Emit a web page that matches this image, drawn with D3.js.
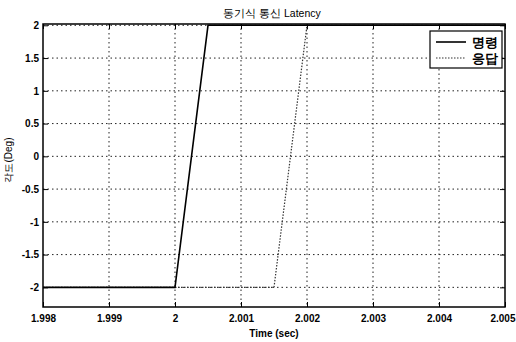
<!DOCTYPE html>
<html><head><meta charset="utf-8">
<script src="https://cdn.jsdelivr.net/npm/d3@7"></script>
<style>body{margin:0;background:#fff}svg{display:block}text{font-family:"Liberation Sans",Arial,sans-serif}</style>
</head><body>
<script>
const xTicks = [1.998, 1.999, 2, 2.001, 2.002, 2.003, 2.004, 2.005];
const xTickLabels = ["1.998","1.999","2","2.001","2.002","2.003","2.004","2.005"];
const yTicks = [-2, -1.5, -1, -0.5, 0, 0.5, 1, 1.5, 2];
const yTickLabels = ["-2","-1.5","-1","-0.5","0","0.5","1","1.5","2"];
const seriesNames = ["명령", "응답"];
const commandT = [1.998, 2.0, 2.0005, 2.005];
const commandV = [-2, -2, 2, 2];
const responseT = [1.998, 2.0015, 2.002, 2.005];
const responseV = [-2, -2, 2, 2];

const W = 516, H = 342;
const m = {l:43, r:11, t:24, b:35};
const svg = d3.select("body").append("svg").attr("width", W).attr("height", H);
const x = d3.scaleLinear().domain([1.998, 2.005]).range([m.l, W - m.r]);
const y = d3.scaleLinear().domain([-2.3, 2.02]).range([H - m.b, m.t]);

// grid
const g = svg.append("g");
g.selectAll("line.vx").data(xTicks.slice(1, -1)).join("line")
  .attr("x1", d => x(d)).attr("x2", d => x(d)).attr("y1", m.t).attr("y2", H - m.b)
  .attr("stroke", "#222").attr("stroke-width", 1).attr("stroke-dasharray", "1.5,3");
g.selectAll("line.hy").data(yTicks).join("line")
  .attr("x1", m.l).attr("x2", W - m.r).attr("y1", d => y(d)).attr("y2", d => y(d))
  .attr("stroke", "#222").attr("stroke-width", 1).attr("stroke-dasharray", "1.5,3");

// axes
const xAxis = d3.axisBottom(x).tickValues(xTicks).tickFormat((d, i) => xTickLabels[i]).tickSize(-5).tickPadding(8);
const yAxis = d3.axisLeft(y).tickValues(yTicks).tickFormat((d, i) => yTickLabels[i]).tickSize(-5).tickPadding(4);
const gx = svg.append("g").attr("transform", `translate(0,${H - m.b})`).call(xAxis);
const gy = svg.append("g").attr("transform", `translate(${m.l},0)`).call(yAxis);
[gx, gy].forEach(a => {
  a.select(".domain").remove();
  a.selectAll("line").attr("stroke", "#000");
  a.selectAll("text").attr("font-size", 10).attr("font-weight", "bold").attr("fill", "#000");
});
gx.selectAll(".tick").filter((d, i) => i === xTicks.length - 1).select("text")
  .attr("text-anchor", "end").attr("dx", "10");
// top/right tick marks
svg.append("g").attr("transform", `translate(0,${m.t})`).call(d3.axisTop(x).tickValues(xTicks).tickSize(-5).tickFormat(""))
  .call(a => { a.select(".domain").remove(); a.selectAll("line").attr("stroke", "#000"); });
svg.append("g").attr("transform", `translate(${W - m.r},0)`).call(d3.axisRight(y).tickValues(yTicks).tickSize(-5).tickFormat(""))
  .call(a => { a.select(".domain").remove(); a.selectAll("line").attr("stroke", "#000"); });

// box
svg.append("rect").attr("x", m.l).attr("y", m.t).attr("width", W - m.r - m.l).attr("height", H - m.b - m.t)
  .attr("fill", "none").attr("stroke", "#000").attr("stroke-width", 1.5);

// lines
const line = d3.line().x(d => x(d[0])).y(d => y(d[1]));
svg.append("path").datum(responseT.map((t, i) => [t, responseV[i]])).attr("d", line)
  .attr("fill", "none").attr("stroke", "#333").attr("stroke-width", 1.2).attr("stroke-dasharray", "1.5,1.5");
svg.append("path").datum(commandT.map((t, i) => [t, commandV[i]])).attr("d", line)
  .attr("fill", "none").attr("stroke", "#000").attr("stroke-width", 1.6);

// legend
const lg = svg.append("g").attr("transform", "translate(430,31)");
lg.append("rect").attr("width", 72).attr("height", 37).attr("fill", "#fff").attr("stroke", "#000").attr("stroke-width", 1.2);
lg.append("line").attr("x1", 6).attr("x2", 36).attr("y1", 11).attr("y2", 11).attr("stroke", "#000").attr("stroke-width", 1.6);
lg.append("line").attr("x1", 6).attr("x2", 36).attr("y1", 27).attr("y2", 27).attr("stroke", "#333").attr("stroke-width", 1.2).attr("stroke-dasharray", "1.5,1.5");
lg.selectAll("text").data(seriesNames).join("text")
  .attr("x", 42).attr("y", (d, i) => 16 + i * 16).text(d => d)
  .attr("font-family", "'Noto Sans CJK KR',sans-serif").attr("font-size", 13).attr("font-weight", "bold").attr("fill", "#000");

// title & labels
svg.append("text").attr("x", 272).attr("y", 17).attr("text-anchor", "middle").attr("font-size", 10.5).attr("fill", "#000")
  .attr("font-family", "'Noto Sans CJK KR',sans-serif").text("동기식 통신 Latency");
svg.append("text").attr("x", 274).attr("y", 337).attr("text-anchor", "middle").attr("font-size", 10).attr("font-weight", "bold").attr("fill", "#000").text("Time (sec)");
svg.append("text").attr("transform", "translate(12,160) rotate(-90)").attr("text-anchor", "middle").attr("font-size", 10).attr("fill", "#000")
  .attr("font-family", "'Noto Sans CJK KR',sans-serif").text("각도(Deg)");
</script>
</body></html>
